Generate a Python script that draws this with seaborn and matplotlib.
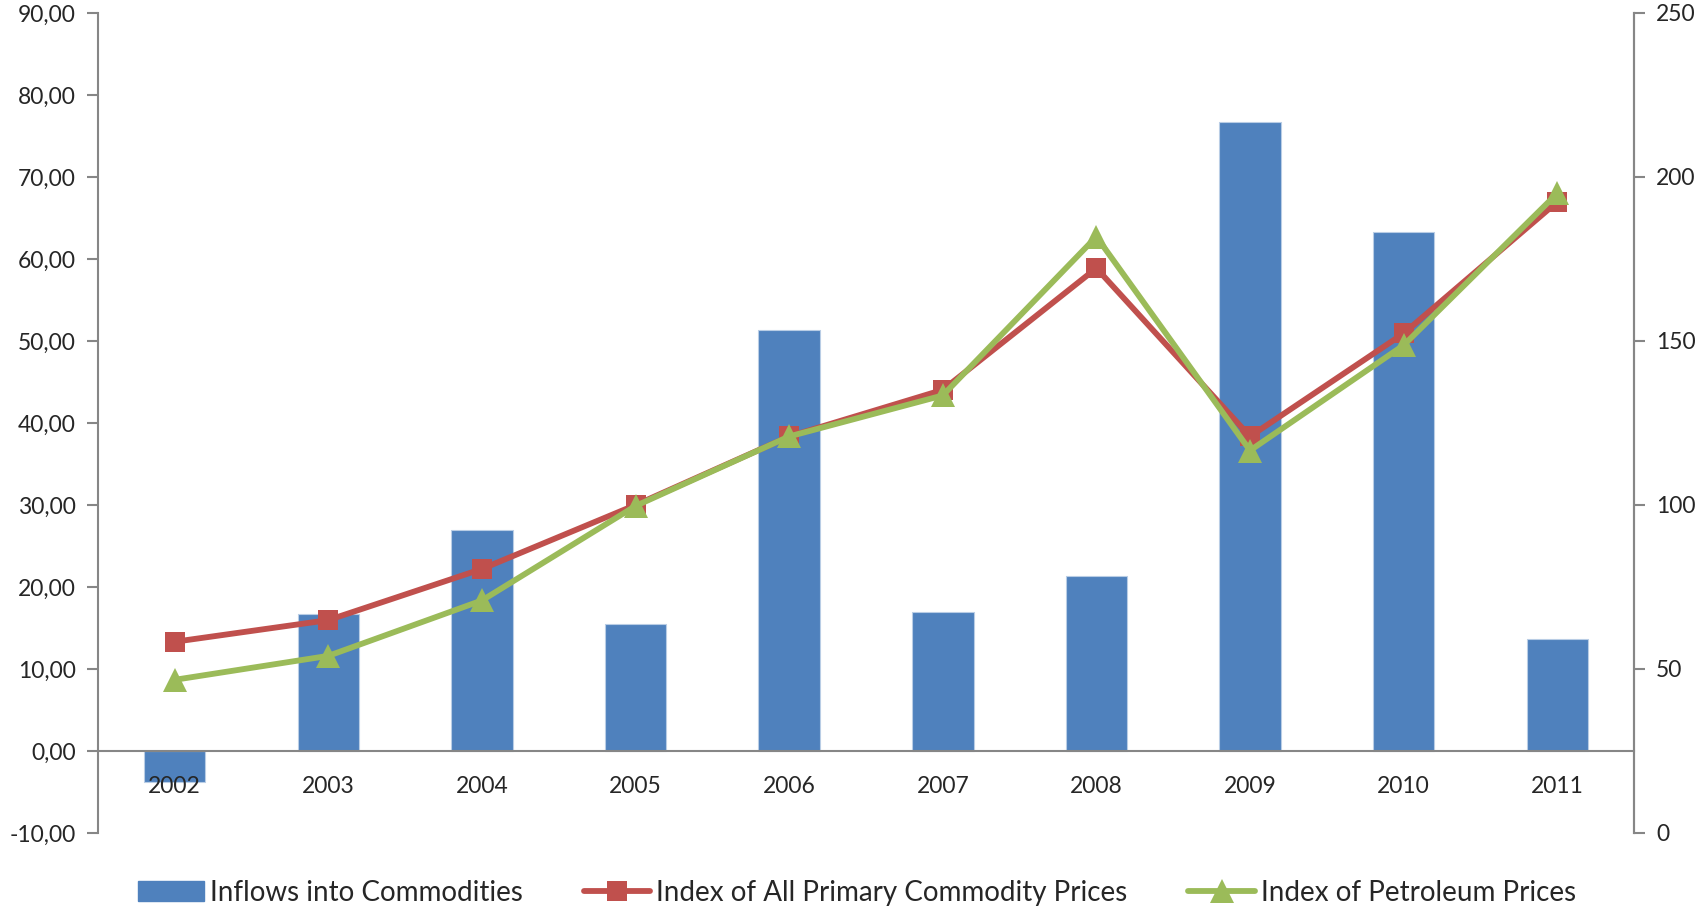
import numpy as np
import pandas as pd
import matplotlib
matplotlib.use("Agg")
import matplotlib.pyplot as plt
import seaborn as sns
from matplotlib.ticker import FuncFormatter, FixedLocator, MultipleLocator

years = ["2002", "2003", "2004", "2005", "2006", "2007", "2008", "2009", "2010", "2011"]
inflows = [-3.8, 16.7, 26.9, 15.5, 51.3, 17.0, 21.3, 76.7, 63.3, 13.6]
primary_idx = [58.3, 64.9, 80.5, 100.0, 120.9, 135.1, 172.2, 120.9, 152.3, 192.4]
petroleum_idx = [46.7, 54.0, 70.9, 99.7, 120.9, 133.4, 181.8, 116.6, 148.7, 195.0]

BLUE = "#4F81BD"
RED = "#C0504D"
GREEN = "#9BBB59"
GREY = "#868686"

sns.set_style("white")
plt.rcParams["font.family"] = ["Lato", "DejaVu Sans"]

df = pd.DataFrame({"Year": years, "Inflows": inflows,
                   "Primary": primary_idx, "Petroleum": petroleum_idx})
df["pos"] = range(len(df))

fig = plt.figure(figsize=(17.03, 9.07), dpi=100)
ax = fig.add_axes([0.0575, 0.0816, 0.902, 0.9041])

sns.barplot(data=df, x="Year", y="Inflows", color=BLUE, saturation=1,
            width=0.4, edgecolor="#B9CDE5", linewidth=0.8, ax=ax)
ax.set_axisbelow(False)  # year labels drawn over the negative bar
ax.set_xlim(-0.5, len(years) - 0.5)
ax.set_ylim(-10, 90)
ax.yaxis.set_major_locator(MultipleLocator(10))
ax.yaxis.set_major_formatter(FuncFormatter(lambda v, p: f"{v:.2f}".replace(".", ",")))
ax.set_xlabel("")
ax.set_ylabel("")

# x axis sits at zero
ax.spines["top"].set_visible(False)
ax.spines["bottom"].set_position(("data", 0))
for s in ["left", "right", "bottom"]:
    ax.spines[s].set_color(GREY)
    ax.spines[s].set_linewidth(1.5)
ax.xaxis.set_minor_locator(FixedLocator(np.arange(-0.5, len(years), 1.0)))
ax.tick_params(axis="x", which="major", length=0, pad=18, labelsize=16.5)
ax.tick_params(axis="x", which="minor", length=7, width=1.5, color=GREY, direction="out")
ax.tick_params(axis="y", length=8, width=1.5, color=GREY, labelsize=16.5, pad=8, left=True)

ax2 = ax.twinx()
sns.lineplot(data=df, x="pos", y="Primary", color=RED, marker="s", markersize=14,
             markeredgewidth=0, linewidth=4.2, ax=ax2, label="Index of All Primary Commodity Prices")
sns.lineplot(data=df, x="pos", y="Petroleum", color=GREEN, marker="^", markersize=17,
             markeredgewidth=0, linewidth=4.2, ax=ax2, label="Index of Petroleum Prices")
ax2.set_ylim(0, 250)
ax2.yaxis.set_major_locator(MultipleLocator(50))
ax2.set_xlabel("")
ax2.set_ylabel("")
ax2.spines["top"].set_visible(False)
ax2.spines["bottom"].set_visible(False)
ax2.spines["left"].set_visible(False)
ax2.spines["right"].set_color(GREY)
ax2.spines["right"].set_linewidth(1.5)
ax2.tick_params(axis="y", length=8, width=1.5, color=GREY, labelsize=16.5, pad=8, right=True)
ax2.set_xlim(-0.5, len(years) - 0.5)

h2, l2 = ax2.get_legend_handles_labels()
ax2.get_legend().remove()
bar_handle = matplotlib.patches.Patch(color=BLUE)
fig.legend([bar_handle] + h2, ["Inflows into Commodities"] + l2,
           loc="lower center", bbox_to_anchor=(0.503, -0.026), ncol=3, frameon=False,
           fontsize=20, handlelength=2.4, handletextpad=0.2, columnspacing=2.2)

fig.savefig("out.png", dpi=100)
plt.close()
